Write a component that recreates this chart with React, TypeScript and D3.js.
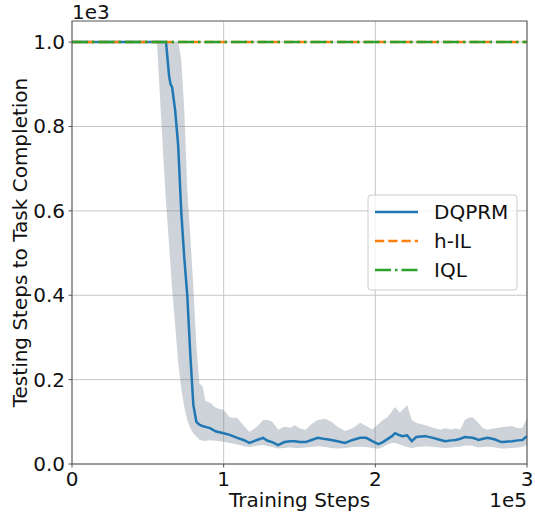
import * as d3 from "d3";

// training steps at which the curves were read
const steps = [
  0, 20000, 40000, 56000, 58000, 60000, 62000, 64000, 65000, 66000, 68000, 70000,
  72000, 74000, 76000, 78000, 80000, 82000, 84000, 86000, 88000, 91000, 95000,
  100000, 104000, 109000, 113000, 117000, 122000, 126000, 129000, 132000, 136000,
  140000, 144000, 147000, 150000, 154000, 158000, 162000, 167000, 171000, 175000,
  180000, 185000, 190000, 194000, 198000, 202000, 205000, 208000, 211000, 213000,
  216000, 218000, 221000, 224000, 227000, 230000, 233000, 238000, 243000, 246000,
  250000, 253000, 256000, 259000, 262000, 264000, 266000, 268000, 271000, 274000,
  277000, 279000, 283000, 286000, 290000, 294000, 297000, 300000,
];

const dqprmMean = [
  1000, 1000, 1000, 1000, 1000, 1000, 1000, 920, 900, 893, 839, 755,
  600, 490, 400, 260, 140, 100, 93, 90, 88, 85, 77,
  73, 69, 62, 57, 50, 57, 62, 55, 52, 45,
  52, 54, 54, 52, 52, 57, 62, 59, 57, 54,
  50, 57, 62, 62, 54, 47, 52, 59, 66, 73,
  68, 66, 68, 54, 64, 65, 66, 62, 57, 54,
  56, 57, 60, 64, 63, 62, 60, 57, 60, 62,
  60, 58, 52, 53, 54, 56, 57, 66,
];

const dqprmLower = [
  1000, 1000, 1000, 1000, 870, 740, 620, 520, 470, 415, 330, 240,
  180, 135, 105, 85, 72, 65, 58, 55, 55, 56, 55,
  53, 50, 46, 42, 40, 43, 45, 42, 40, 37,
  38, 39, 38, 38, 39, 40, 42, 40, 38, 37,
  38, 40, 41, 40, 38, 36, 40, 46, 50, 50,
  46, 44, 40, 38, 40, 41, 42, 40, 39, 38,
  39, 40, 41, 43, 44, 43, 41, 39, 40, 41,
  40, 39, 37, 37, 38, 39, 40, 45,
];

const dqprmUpper = [
  1000, 1000, 1000, 1000, 1000, 1000, 1000, 1000, 1000, 1000, 1000, 1000,
  960, 840, 650, 540, 420, 280, 190, 185, 150, 145, 133,
  128, 111, 109, 92, 76, 88, 104, 104, 100, 81,
  88, 86, 92, 85, 81, 95, 104, 107, 100, 88,
  78, 85, 98, 90, 82, 95, 104, 111, 125, 135,
  122, 128, 140, 104, 97, 95, 92, 86, 81, 85,
  82, 85, 82, 104, 110, 111, 105, 97, 85, 81,
  84, 85, 87, 88, 90, 85, 86, 109,
];

// baselines never finish the task within the budget
const baselineSteps = [0, 300000];
const hilValues = [1000, 1000];
const iqlValues = [1000, 1000];

const xTicks = [0, 100000, 200000, 300000];
const yTicks = [0, 200, 400, 600, 800, 1000];

const legendNames = ["DQPRM", "h-IL", "IQL"];
const colors = ["#1f77b4", "#ff7f0e", "#2ca02c"];
const dashes = [null, "9.25 4", "16 4 2.5 4"];

const W = 535;
const H = 515;
const margin = { left: 72, right: 8, top: 21, bottom: 51 };
const font = "DejaVu Sans, sans-serif";
const fs = 20;

export default function App() {
  const x = d3.scaleLinear().domain([0, 300000]).range([margin.left, W - margin.right]);
  const y = d3.scaleLinear().domain([0, 1050]).range([H - margin.bottom, margin.top]);

  const idx = d3.range(steps.length);
  const line = d3
    .line<number>()
    .x((i) => x(steps[i]))
    .y((i) => y(dqprmMean[i]));
  const band = d3
    .area<number>()
    .x((i) => x(steps[i]))
    .y0((i) => y(dqprmLower[i]))
    .y1((i) => y(dqprmUpper[i]));
  const flat = (vals: number[]) =>
    d3
      .line<number>()
      .x((i) => x(baselineSteps[i]))
      .y((i) => y(vals[i]))(d3.range(baselineSteps.length)) || "";

  const [x0, x1] = x.range();
  const [yb, yt] = y.range();
  const fmtY = (v: number) => (v / 1000).toFixed(1);
  const fmtX = (v: number) => String(v / 100000);

  const legX = 368;
  const legY = 195;

  return (
    <svg
      width={W}
      height={H}
      style={{ position: "absolute", left: 0, top: 0, fontFamily: font }}
    >
      <rect width={W} height={H} fill="white" />
      <defs>
        <clipPath id="plot">
          <rect x={x0} y={yt} width={x1 - x0} height={yb - yt} />
        </clipPath>
      </defs>

      {/* grid */}
      <g stroke="#b0b0b0" strokeWidth={1} opacity={0.7}>
        {xTicks.map((t) => (
          <line key={"gx" + t} x1={x(t)} x2={x(t)} y1={yt} y2={yb} />
        ))}
        {yTicks.map((t) => (
          <line key={"gy" + t} x1={x0} x2={x1} y1={y(t)} y2={y(t)} />
        ))}
      </g>

      <g clipPath="url(#plot)">
        <path d={band(idx) || ""} fill="#708090" fillOpacity={0.35} />
        <path d={line(idx) || ""} fill="none" stroke={colors[0]} strokeWidth={2.5} />
        <path
          d={flat(hilValues)}
          fill="none"
          stroke={colors[1]}
          strokeWidth={2.5}
          strokeDasharray={dashes[1]!}
        />
        <path
          d={flat(iqlValues)}
          fill="none"
          stroke={colors[2]}
          strokeWidth={2.5}
          strokeDasharray={dashes[2]!}
        />
      </g>

      {/* spines */}
      <rect x={x0} y={yt} width={x1 - x0} height={yb - yt} fill="none" stroke="#555" strokeWidth={1} />

      {/* ticks */}
      <g fontSize={fs} fill="#111">
        {xTicks.map((t) => (
          <g key={"tx" + t}>
            <line x1={x(t)} x2={x(t)} y1={yb} y2={yb + 3.5} stroke="#555" />
            <text x={x(t)} y={yb + 22} textAnchor="middle">
              {fmtX(t)}
            </text>
          </g>
        ))}
        {yTicks.map((t) => (
          <g key={"ty" + t}>
            <line x1={x0 - 3.5} x2={x0} y1={y(t)} y2={y(t)} stroke="#555" />
            <text x={x0 - 7} y={y(t) + 7} textAnchor="end">
              {fmtY(t)}
            </text>
          </g>
        ))}
        <text x={x0} y={19}>1e3</text>
        <text x={x1} y={507} textAnchor="end">1e5</text>
        <text x={(x0 + x1) / 2} y={507} textAnchor="middle">
          Training Steps
        </text>
        <text
          transform={`translate(27,${(yt + yb) / 2}) rotate(-90)`}
          textAnchor="middle"
        >
          Testing Steps to Task Completion
        </text>
      </g>

      {/* legend */}
      <g>
        <rect
          x={legX}
          y={legY}
          width={149}
          height={95}
          rx={3}
          fill="white"
          fillOpacity={0.8}
          stroke="#ccc"
        />
        {legendNames.map((name, i) => (
          <g key={name}>
            <line
              x1={legX + 7}
              x2={legX + 50}
              y1={legY + 17 + i * 29}
              y2={legY + 17 + i * 29}
              stroke={colors[i]}
              strokeWidth={2.5}
              strokeDasharray={dashes[i] || undefined}
            />
            <text x={legX + 66} y={legY + 24 + i * 29} fontSize={fs} fill="#111">
              {name}
            </text>
          </g>
        ))}
      </g>
    </svg>
  );
}
